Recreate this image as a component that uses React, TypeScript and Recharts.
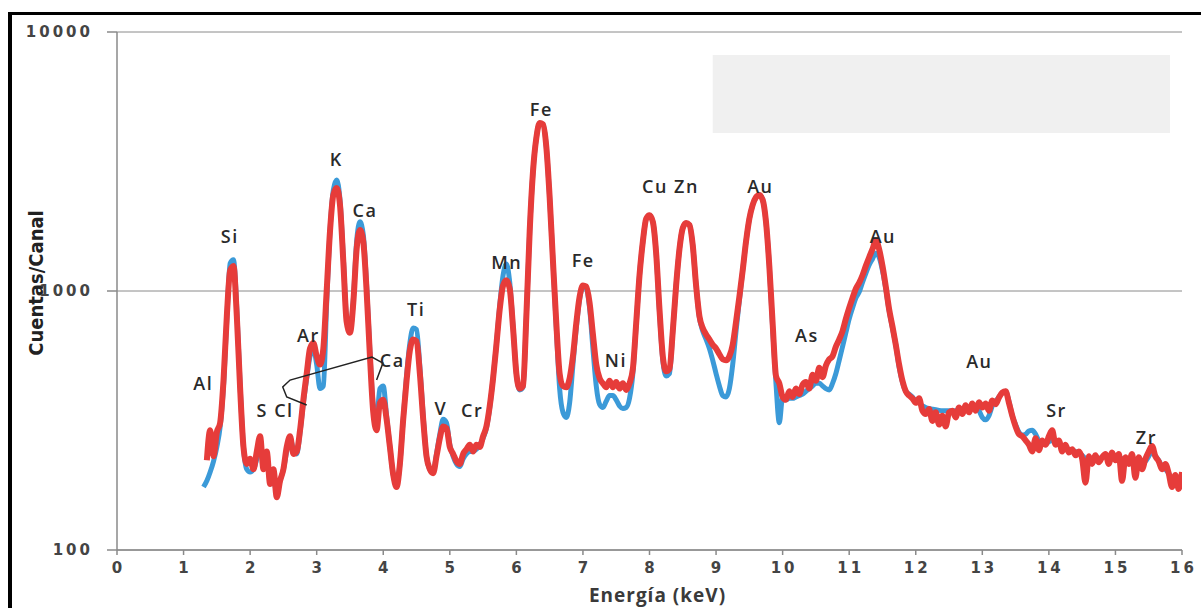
import React from "react";
import {
  ComposedChart,
  Line,
  Scatter,
  XAxis,
  YAxis,
  CartesianGrid,
  ReferenceArea,
} from "recharts";

// energía (keV), muestreo cada 0.05
const ENERGY = [
  1.3, 1.35, 1.4, 1.45, 1.5, 1.55, 1.6, 1.65, 1.7, 1.75, 1.8, 1.85, 1.9, 1.95,
  2.0, 2.05, 2.1, 2.15, 2.2, 2.25, 2.3, 2.35, 2.4, 2.45, 2.5, 2.55, 2.6, 2.65, 2.7, 2.75, 2.8, 2.85, 2.9, 2.95,
  3.0, 3.05, 3.1, 3.15, 3.2, 3.25, 3.3, 3.35, 3.4, 3.45, 3.5, 3.55, 3.6, 3.65, 3.7, 3.75, 3.8, 3.85, 3.9, 3.95,
  4.0, 4.05, 4.1, 4.15, 4.2, 4.25, 4.3, 4.35, 4.4, 4.45, 4.5, 4.55, 4.6, 4.65, 4.7, 4.75, 4.8, 4.85, 4.9, 4.95,
  5.0, 5.05, 5.1, 5.15, 5.2, 5.25, 5.3, 5.35, 5.4, 5.45, 5.5, 5.55, 5.6, 5.65, 5.7, 5.75, 5.8, 5.85, 5.9, 5.95,
  6.0, 6.05, 6.1, 6.15, 6.2, 6.25, 6.3, 6.35, 6.4, 6.45, 6.5, 6.55, 6.6, 6.65, 6.7, 6.75, 6.8, 6.85, 6.9, 6.95,
  7.0, 7.05, 7.1, 7.15, 7.2, 7.25, 7.3, 7.35, 7.4, 7.45, 7.5, 7.55, 7.6, 7.65, 7.7, 7.75, 7.8, 7.85, 7.9, 7.95,
  8.0, 8.05, 8.1, 8.15, 8.2, 8.25, 8.3, 8.35, 8.4, 8.45, 8.5, 8.55, 8.6, 8.65, 8.7, 8.75, 8.8, 8.85, 8.9, 8.95,
  9.0, 9.05, 9.1, 9.15, 9.2, 9.25, 9.3, 9.35, 9.4, 9.45, 9.5, 9.55, 9.6, 9.65, 9.7, 9.75, 9.8, 9.85, 9.9, 9.95,
  10.0, 10.05, 10.1, 10.15, 10.2, 10.25, 10.3, 10.35, 10.4, 10.45, 10.5, 10.55, 10.6, 10.65, 10.7, 10.75, 10.8, 10.85, 10.9, 10.95,
  11.0, 11.05, 11.1, 11.15, 11.2, 11.25, 11.3, 11.35, 11.4, 11.45, 11.5, 11.55, 11.6, 11.65, 11.7, 11.75, 11.8, 11.85, 11.9, 11.95,
  12.0, 12.05, 12.1, 12.15, 12.2, 12.25, 12.3, 12.35, 12.4, 12.45, 12.5, 12.55, 12.6, 12.65, 12.7, 12.75, 12.8, 12.85, 12.9, 12.95,
  13.0, 13.05, 13.1, 13.15, 13.2, 13.25, 13.3, 13.35, 13.4, 13.45, 13.5, 13.55, 13.6, 13.65, 13.7, 13.75, 13.8, 13.85, 13.9, 13.95,
  14.0, 14.05, 14.1, 14.15, 14.2, 14.25, 14.3, 14.35, 14.4, 14.45, 14.5, 14.55, 14.6, 14.65, 14.7, 14.75, 14.8, 14.85, 14.9, 14.95,
  15.0, 15.05, 15.1, 15.15, 15.2, 15.25, 15.3, 15.35, 15.4, 15.45, 15.5, 15.55, 15.6, 15.65, 15.7, 15.75, 15.8, 15.85, 15.9, 15.95,
  16.0,
];

// espectro rojo (cuentas/canal)
const RED = [
  null, 222, 290, 230, 285, 310, 450, 800, 1200, 1250, 800, 420, 250, 215,
  225, 205, 240, 275, 205, 240, 180, 205, 160, 185, 205, 250, 275, 235, 240, 290, 380, 480, 600, 630,
  560, 520, 600, 1000, 1700, 2350, 2500, 2150, 1300, 760, 690, 900, 1450, 1720, 1550, 1000, 560, 340, 290, 370,
  380, 320, 250, 195, 175, 215, 320, 450, 590, 650, 640, 480, 320, 230, 205, 198, 230, 270, 300, 295,
  250, 235, 220, 215, 235, 245, 255, 240, 255, 250, 275, 300, 360, 460, 620, 850, 1050, 1100, 1020, 720,
  480, 420, 430, 800, 1700, 2900, 3900, 4450, 4400, 3600, 2300, 1300, 750, 480, 430, 425, 460, 560, 750, 950,
  1050, 1040, 900, 680, 520, 460, 440, 425, 450, 425, 445, 420, 440, 415, 440, 500, 750, 1150, 1550, 1900,
  1960, 1850, 1400, 850, 560, 490, 500, 700, 1050, 1450, 1750, 1830, 1800, 1500, 1050, 800, 720, 680, 650, 620,
  600, 570, 545, 540, 560, 620, 760, 950, 1200, 1550, 1900, 2150, 2300, 2350, 2250, 1850, 1250, 750, 470, 440,
  390, 380, 410, 390, 420, 400, 435, 445, 420, 475, 450, 505, 465, 515, 545, 560, 610, 650, 700, 780,
  860, 940, 1020, 1075, 1150, 1250, 1350, 1450, 1570, 1450, 1250, 1040, 850, 730, 620, 520, 450, 410, 395, 385,
  370, 385, 345, 335, 350, 315, 340, 305, 330, 300, 340, 345, 325, 355, 335, 362, 340, 368, 345, 372,
  355, 368, 345, 378, 365, 388, 405, 410, 370, 330, 300, 280, 275, 265, 255, 240, 270, 243, 265, 255,
  275, 290, 255, 265, 240, 255, 238, 245, 232, 240, 225, 182, 230, 215, 232, 218, 228, 235, 215, 238,
  222, 235, 185, 228, 215, 235, 190, 228, 205, 225, 240, 252, 230, 220, 205, 215, 198, 175, 195, 172,
  200,
];

// espectro azul (cuentas/canal)
const BLUE = [
  175, 185, 200, 220, 250, 300, 430, 780, 1280, 1320, 850, 430, 250, 205,
  200, 205, 225, 260, 215, 220, 190, 185, 170, 185, 205, 240, 270, 245, 235, 285, 370, 460, 560, 600,
  520, 420, 430, 900, 1700, 2450, 2680, 2250, 1350, 780, 700, 920, 1550, 1850, 1650, 1050, 580, 360, 320, 420,
  430, 330, 250, 195, 178, 215, 320, 470, 630, 720, 710, 510, 330, 230, 205, 200, 235, 280, 320, 310,
  255, 230, 215, 210, 225, 235, 240, 240, 245, 255, 270, 295, 355, 460, 620, 880, 1150, 1270, 1080, 730,
  480, 415, 425, 800, 1700, 2900, 3900, 4450, 4400, 3600, 2300, 1300, 720, 420, 340, 325, 370, 520, 720, 930,
  1040, 1020, 860, 600, 430, 365, 355, 375, 395, 395, 380, 360, 352, 355, 385, 480, 740, 1150, 1550, 1900,
  1960, 1850, 1400, 830, 540, 470, 480, 700, 1050, 1450, 1750, 1830, 1800, 1500, 1050, 790, 700, 650, 600, 540,
  480, 430, 395, 390, 420, 520, 700, 920, 1200, 1550, 1900, 2150, 2300, 2350, 2250, 1850, 1250, 720, 440, 310,
  390, 380, 385, 385, 390, 395, 400, 410, 420, 430, 440, 440, 430, 420, 415, 440, 480, 540, 610, 690,
  780, 860, 940, 990, 1080, 1170, 1260, 1330, 1400, 1350, 1200, 1020, 840, 720, 620, 510, 445, 410, 400, 390,
  375, 370, 360, 355, 352, 350, 348, 346, 345, 345, 345, 345, 345, 350, 350, 352, 355, 358, 355, 345,
  325, 318, 330, 360, 375, 390, 405, 410, 375, 330, 305, 285, 278, 280, 288, 290, 280, 265, 262, 258,
  262, 265, 258, 255, 250, 248, 245, 242, 240, 237, 232, 225, 222, 220, 222, 225, 228, 230, 228, 232,
  230, 228, 225, 222, 220, 225, 220, 222, 218, 220, 230, 240, 230, 222, 210, 205, 198, 185, 190, 182,
  195,
];

// etiquetas de los elementos
const LABEL_TEXT = ["Al", "Si", "S Cl", "Ar", "K", "Ca", "Ca", "Ti", "V", "Cr", "Mn", "Fe", "Fe", "Ni", "Cu Zn", "Au", "As", "Au", "Au", "Sr", "Zr"];
const LABEL_E = [1.28, 1.68, 2.36, 2.86, 3.28, 3.71, 4.12, 4.48, 4.85, 5.32, 5.84, 6.36, 6.99, 7.48, 8.3, 9.65, 10.35, 11.49, 12.94, 14.1, 15.45];
const LABEL_C = [441, 1616, 347, 676, 3206, 2054, 541, 845, 353, 347, 1293, 5000, 1317, 541, 2521, 2521, 676, 1616, 532, 347, 273];

// trazo a mano (llave Ca)
const BRACKET_E = [2.85, 2.55, 2.49, 2.6, 3.83, 3.995, 3.9];
const BRACKET_C = [363, 390, 426, 453, 556, 527, 453];

const X_TICKS = [0, 1, 2, 3, 4, 5, 6, 7, 8, 9, 10, 11, 12, 13, 14, 15, 16];
const Y_TICKS = [100, 1000, 10000];

const rows = ENERGY.map((e, i) => ({ e, red: RED[i], blue: BLUE[i] }));
const labelRows = LABEL_TEXT.map((name, i) => ({ name, e: LABEL_E[i], c: LABEL_C[i] }));
const bracketRows = BRACKET_E.map((e, i) => ({ e, c: BRACKET_C[i] }));

const AXIS = "#8a8a8a";
const TEXT = "#3a3a3a";

const XTick = ({ x, y, payload }: any) => (
  <text x={x + 1.5} y={y} dy="0.71em" textAnchor="middle" fill="#444" fontSize={15} fontWeight={600} fontFamily="DejaVu Sans" letterSpacing={3}>
    {payload.value}
  </text>
);

const YTick = ({ x, y, payload }: any) => (
  <text x={x + 3} y={y} dy="0.36em" textAnchor="end" fill="#444" fontSize={15} fontWeight={600} fontFamily="DejaVu Sans" letterSpacing={3}>
    {payload.value}
  </text>
);

const PeakLabel = (props: any) => {
  const { cx, cy, payload } = props;
  return (
    <text x={cx + 1} y={cy} dy="0.36em" textAnchor="middle" fill="#2a2a2a" fontSize={18} fontWeight={600} fontFamily="Open Sans" letterSpacing={1.5}>
      {payload.name}
    </text>
  );
};

export default function App() {
  return (
    <div style={{ position: "absolute", left: 0, top: 0, width: 1201, height: 608 }}>
      <div
        style={{
          position: "absolute",
          left: 8,
          top: 12,
          width: 1193,
          height: 596,
          boxSizing: "border-box",
          borderTop: "3px solid #000",
          borderLeft: "4px solid #000",
        }}
      />
      <div style={{ position: "absolute", left: 0, top: 0 }}>
        <ComposedChart width={1201} height={608} data={rows} margin={{ top: 32, right: 19, bottom: 0, left: 0 }}>
          <CartesianGrid vertical={false} stroke={AXIS} strokeWidth={1} />
          <ReferenceArea x1={8.95} x2={15.82} y1={4074} y2={8151} fill="#f0f0f0" fillOpacity={1} stroke="none" />
          <XAxis
            dataKey="e"
            type="number"
            domain={[0, 16]}
            ticks={X_TICKS}
            allowDataOverflow
            height={58}
            tickSize={5}
            tickMargin={7}
            axisLine={{ stroke: AXIS, strokeWidth: 1.5 }}
            tickLine={{ stroke: AXIS, strokeWidth: 1.5 }}
            tick={<XTick />}
            label={(p: any) => {
              const vb = p.viewBox;
              return (
                <text x={vb.x + vb.width / 2 + 8} y={vb.y + vb.height - 6} textAnchor="middle" fill={TEXT} fontSize={19} fontWeight="bold" fontFamily="Open Sans" letterSpacing={1}>
                  Energía (keV)
                </text>
              );
            }}
          />
          <YAxis
            type="number"
            scale="log"
            domain={[100, 10000]}
            ticks={Y_TICKS}
            allowDataOverflow
            width={117}
            tickSize={10}
            tickMargin={17}
            axisLine={{ stroke: AXIS, strokeWidth: 1.5 }}
            tickLine={{ stroke: AXIS, strokeWidth: 1.5 }}
            tick={<YTick />}
            label={(p: any) => {
              const vb = p.viewBox;
              const cx = vb.x + 36;
              const cy = vb.y + vb.height / 2 - 8;
              return (
                <text x={cx} y={cy} dy="0.36em" transform={`rotate(-90 ${cx} ${cy})`} textAnchor="middle" fill="#222" fontSize={20} fontWeight="bold" fontFamily="'Liberation Sans Narrow', 'DejaVu Sans Condensed', sans-serif">
                  Cuentas/Canal
                </text>
              );
            }}
          />
          <Line dataKey="blue" type="monotone" stroke="#3b9ad8" strokeWidth={5} dot={false} isAnimationActive={false} />
          <Line dataKey="red" type="monotone" stroke="#e63c3a" strokeWidth={6} dot={false} isAnimationActive={false} />
          <Line data={bracketRows} dataKey="c" type="linear" stroke="#222" strokeWidth={1.5} dot={false} isAnimationActive={false} />
          <Scatter data={labelRows} dataKey="c" shape={<PeakLabel />} isAnimationActive={false} />
        </ComposedChart>
      </div>
    </div>
  );
}
